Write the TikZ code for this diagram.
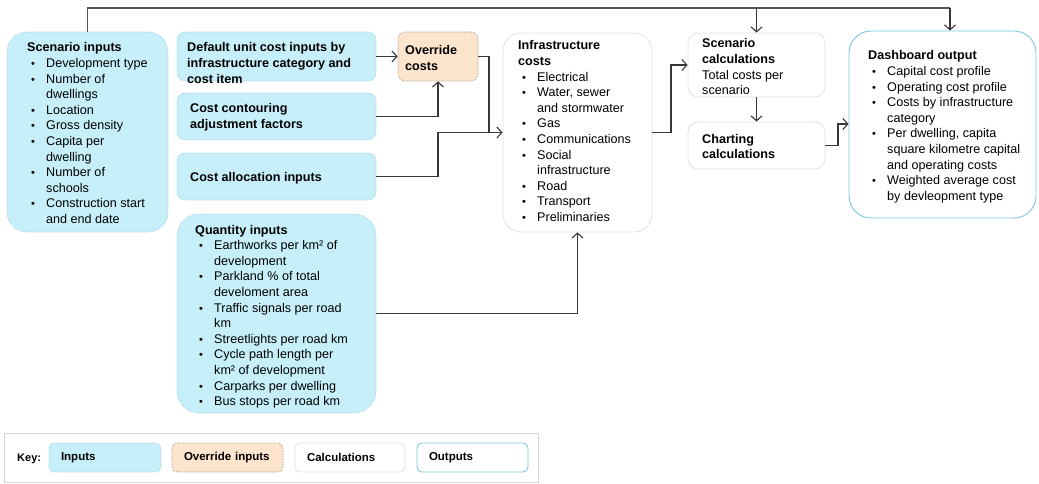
\documentclass[tikz,border=0pt]{standalone}
\usepackage{fontspec}
\setmainfont{Liberation Sans}
\usetikzlibrary{arrows.meta}
\definecolor{inFill}{RGB}{198,239,250}
\definecolor{inLine}{RGB}{140,195,212}
\definecolor{ovFill}{RGB}{252,228,205}
\definecolor{ovLine}{RGB}{140,130,120}
\definecolor{caLine}{RGB}{226,226,226}
\definecolor{outLine}{RGB}{125,200,222}
\definecolor{conn}{RGB}{55,55,55}
\definecolor{keyLine}{RGB}{215,215,215}
\newlength\bx \setlength\bx{4pt}
\newlength\bo \setlength\bo{19pt}
\newcommand\bi{\makebox[\bo][l]{\hspace*{\bx}{\fontsize{11}{11}\selectfont •}}}
\newcommand\bc{\hspace*{\bo}}
\tikzset{
  inbox/.style={draw=inLine, densely dotted, line width=0.6pt, fill=inFill, inner sep=0pt},
  ovbox/.style={draw=ovLine, densely dotted, line width=0.6pt, fill=ovFill, inner sep=0pt},
  cabox/.style={draw=caLine, line width=0.8pt, fill=white, inner sep=0pt},
  outbox/.style={draw=outLine, line width=0.9pt, fill=white, inner sep=0pt},
  txt/.style={anchor=base west, inner sep=0pt},
  conn/.style={draw=conn, line width=1.1pt},
  arr/.style={conn, -{Straight Barb[length=5pt,width=11pt]}},
  topline/.style={draw=conn!85, line width=1.8pt},
  keytxt/.style={font=\fontsize{11.5}{13}\selectfont\bfseries, text width=#1, align=left, minimum height=29pt, inner xsep=12pt, inner ysep=0pt, rounded corners=5pt},
}
\begin{document}
\begin{tikzpicture}[x=1pt,y=-1pt,font=\fontsize{12.6}{15.6}\selectfont]
\useasboundingbox (0,0) rectangle (1039,484);

% boxes
\node[inbox, rounded corners=20pt, minimum width=161pt, minimum height=200pt] (scen) at (87.5,132) {};
\node[inbox, rounded corners=8pt, minimum width=199pt, minimum height=49pt] (def) at (276.5,56.5) {};
\node[ovbox, rounded corners=7pt, minimum width=80pt, minimum height=49pt] (ovr) at (438,56.5) {};
\node[inbox, rounded corners=8pt, minimum width=199pt, minimum height=47pt] (cont) at (276.5,116.5) {};
\node[inbox, rounded corners=8pt, minimum width=199pt, minimum height=47pt] (alloc) at (276.5,176.5) {};
\node[inbox, rounded corners=22pt, minimum width=199pt, minimum height=199pt] (qty) at (276.5,313.5) {};
\node[cabox, rounded corners=18pt, minimum width=149pt, minimum height=199pt] (infra) at (577.5,132.5) {};
\node[cabox, rounded corners=10pt, minimum width=137pt, minimum height=64pt] (scal) at (756.5,65) {};
\node[cabox, rounded corners=10pt, minimum width=137pt, minimum height=47pt] (chart) at (756.5,145.5) {};
\node[outbox, rounded corners=22pt, minimum width=187pt, minimum height=187pt] (dash) at (942.5,124.5) {};

% texts
\node[txt] (scenT) at (27,52) {\parbox[t]{160pt}{\textbf{Scenario inputs}\\
\bi Development type\\ \bi Number of\\ \bc dwellings\\ \bi Location\\ \bi Gross density\\
\bi Capita per\\ \bc dwelling\\ \bi Number of\\ \bc schools\\ \bi Construction start\\ \bc and end date}};
\node[txt] (defT) at (187,52) {\parbox[t]{200pt}{\textbf{Default unit cost inputs by}\\ \textbf{infrastructure category and}\\ \textbf{cost item}}};
\node[txt] (ovrT) at (405,55) {\parbox[t]{80pt}{\textbf{Override}\\ \textbf{costs}}};
\node[txt] (contT) at (190,113) {\parbox[t]{200pt}{\textbf{Cost contouring}\\ \textbf{adjustment factors}}};
\node[txt] (allocT) at (190,182) {\textbf{Cost allocation inputs}};
\node[txt] (qtyT) at (195,234) {\parbox[t]{200pt}{\textbf{Quantity inputs}\\
\bi Earthworks per km² of\\ \bc development\\ \bi Parkland \% of total\\ \bc develoment area\\
\bi Traffic signals per road\\ \bc km\\ \bi Streetlights per road km\\ \bi Cycle path length per\\
\bc km² of development\\ \bi Carparks per dwelling\\ \bi Bus stops per road km}};
\node[txt] (infraT) at (518,50) {\parbox[t]{150pt}{\textbf{Infrastructure}\\ \textbf{costs}\\
\bi Electrical\\ \bi Water, sewer\\ \bc and stormwater\\ \bi Gas\\ \bi Communications\\
\bi Social\\ \bc infrastructure\\ \bi Road\\ \bi Transport\\ \bi Preliminaries}};
\node[txt] (scalT) at (702,48) {\parbox[t]{130pt}{\textbf{Scenario}\\ \textbf{calculations}\\ Total costs per\\ scenario}};
\node[txt] (chartT) at (702,143) {\parbox[t]{130pt}{\textbf{Charting}\\ \textbf{calculations}}};
\node[txt] (dashT) at (868,60) {\parbox[t]{180pt}{\textbf{Dashboard output}\\
\bi Capital cost profile\\ \bi Operating cost profile\\ \bi Costs by infrastructure\\ \bc category\\
\bi Per dwelling, capita\\ \bc square kilometre capital\\ \bc and operating costs\\
\bi Weighted average cost\\ \bc by devleopment type}};

% connectors
\coordinate (tr) at (950,8);
\coordinate (j1) at (489,132.5);
\coordinate (j2) at (671,132.5);
\coordinate (j3) at (838,124);
\draw[topline] (scen.north) |- (tr);
\draw[arr] (tr) -- (tr |- dash.north);
\draw[arr] (scal.north |- tr) -- (scal.north);
\draw[arr] (def.east) -- (ovr.west);
\draw[arr] (cont.east) -| (ovr.south);
\draw[conn] (ovr.east) -| (j1);
\draw[arr] (j1) -- (infra.west);
\draw[conn] (alloc.east) -| (ovr.south |- j1) -- (j1);
\draw[arr] (qty.east) -| (infra.south);
\draw[arr] (infra.east) -| (j2 |- scal.west) -- (scal.west);
\draw[arr] (scal.south) -- (chart.north);
\draw[arr] (chart.east) -| (j3) -- (j3 -| dash.west);

% key
\node[draw=keyLine, line width=0.6pt, minimum width=534pt, minimum height=49pt, inner sep=0pt] (key) at (271,457.5) {};
\node[anchor=base west, inner sep=0pt, font=\fontsize{11}{13}\selectfont\bfseries] (keyT) at (17,461.5) {Key:};
\node[inbox, keytxt=88pt] (kin) at (105,457.5) {Inputs};
\node[ovbox, keytxt=87pt] (kov) at (227.5,457.5) {Override inputs};
\node[cabox, keytxt=86pt] (kca) at (350,457.5) {Calculations};
\node[outbox, keytxt=87pt] (kout) at (472.5,457.5) {Outputs};
\end{tikzpicture}
\end{document}
